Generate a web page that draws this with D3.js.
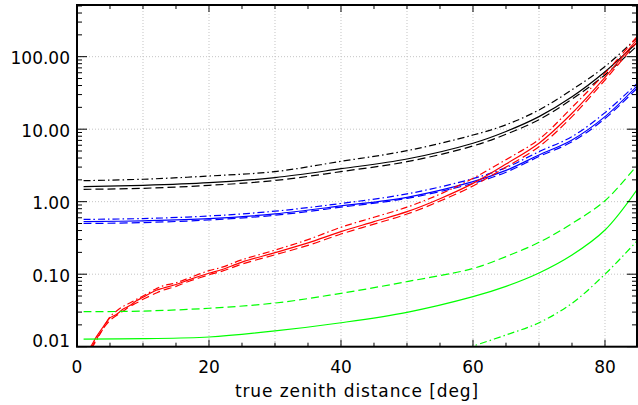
<!DOCTYPE html>
<html>
<head>
<meta charset="utf-8">
<script src="https://cdn.jsdelivr.net/npm/d3@7"></script>
<style>
  body { margin: 0; background: #fff; }
  text { font-family: "DejaVu Sans", sans-serif; fill: #000; }
</style>
</head>
<body>
<script>
const w = 638;
const h = 405;
const plotL = 77, plotR = 637, plotT = 5, plotB = 346.7;

// zenith distances (deg) for the smooth curves
const zen = [1, 10, 20, 30, 40, 50, 60, 65, 70, 75, 80, 85];
const blackSolid   = [1.61, 1.68, 1.83, 2.15, 2.85, 3.88, 6.4, 9.3, 14.9, 28, 62, 161];
const blackDashed  = [1.48, 1.53, 1.68, 1.96, 2.6, 3.56, 5.87, 8.5, 13.5, 26, 56, 145];
const blackDashDot = [1.95, 2.04, 2.26, 2.6, 3.6, 5.05, 8.3, 11.5, 18.4, 35, 73, 189];
const blueSolid    = [0.53, 0.545, 0.583, 0.68, 0.873, 1.15, 1.89, 2.7, 4.4, 7.1, 14.9, 40.7];
const blueDashed   = [0.50, 0.515, 0.56, 0.65, 0.84, 1.11, 1.79, 2.55, 4.2, 6.7, 14, 37.8];
const blueDashDot  = [0.57, 0.585, 0.635, 0.74, 0.945, 1.28, 2.08, 2.95, 4.9, 7.9, 16.9, 44];
const greenSolid   = [0.0127, 0.0129, 0.0136, 0.0165, 0.0214, 0.0298, 0.049, 0.068, 0.104, 0.184, 0.407, 1.53];
const greenDashed  = [0.0304, 0.031, 0.0339, 0.04, 0.0545, 0.079, 0.12, 0.175, 0.275, 0.5, 1.03, 3.3];

// green dash-dot only rises above the floor late
const zenGreenDD = [59, 60, 65, 70, 75, 80, 85];
const greenDashDot = [0.0095, 0.0102, 0.0145, 0.0214, 0.0397, 0.1, 0.297];

// red curves are noisy at small angles, so read more densely
const zenRed = [1, 2, 3, 4, 5, 6, 7, 8, 9, 10, 12, 13, 15, 17, 20, 22, 25, 30, 35, 40, 45, 50, 55, 60, 65, 70, 75, 80, 85];
const redSolid   = [0.0075, 0.0098, 0.014, 0.019, 0.025, 0.028, 0.033, 0.037, 0.043, 0.048, 0.060, 0.064, 0.072, 0.084, 0.103, 0.116, 0.147, 0.198, 0.27, 0.386, 0.53, 0.728, 1.1, 1.79, 3.3, 6.4, 16.6, 52, 180];
const redDashed  = [0.007, 0.0092, 0.013, 0.018, 0.023, 0.027, 0.031, 0.036, 0.040, 0.045, 0.055, 0.060, 0.068, 0.080, 0.098, 0.110, 0.138, 0.185, 0.25, 0.358, 0.49, 0.676, 1.02, 1.65, 3.0, 5.74, 14.9, 47.7, 165];
const redDashDot = [0.0065, 0.0088, 0.0125, 0.018, 0.026, 0.031, 0.036, 0.040, 0.045, 0.050, 0.063, 0.069, 0.076, 0.089, 0.112, 0.125, 0.158, 0.215, 0.30, 0.444, 0.61, 0.84, 1.27, 2.1, 3.8, 7.25, 20, 59, 195];

const xTicks = [0, 20, 40, 60, 80];
const yTicks = [0.01, 0.1, 1, 10, 100];
const yLabels = ["0.01", "0.10", "1.00", "10.00", "100.00"];

const svg = d3.select('body').append('svg')
    .attr('width', w)
    .attr('height', h);

const x = d3.scaleLinear().domain([0, 84.85]).range([plotL, plotR]);
const y = d3.scaleLog().domain([0.01, 516]).range([plotB, plotT]);

// dotted grid
svg.append('g')
    .selectAll('line')
    .data(d3.range(10, 85, 10))
    .enter().append('line')
    .attr('x1', d => x(d)).attr('x2', d => x(d))
    .attr('y1', plotT).attr('y2', plotB)
    .attr('stroke', '#c4c4c4')
    .attr('stroke-dasharray', '1,2');

svg.append('g')
    .selectAll('line')
    .data(yTicks.slice(1))
    .enter().append('line')
    .attr('x1', plotL).attr('x2', plotR)
    .attr('y1', d => y(d)).attr('y2', d => y(d))
    .attr('stroke', '#c4c4c4')
    .attr('stroke-dasharray', '1,2');

svg.append('clipPath').attr('id', 'plot')
    .append('rect')
    .attr('x', plotL).attr('y', plotT)
    .attr('width', plotR - plotL).attr('height', plotB - plotT);

const line = d3.line()
    .x(d => x(d[0]))
    .y(d => y(d[1]))
    .curve(d3.curveCatmullRom.alpha(0.5));

const dashed = '8,4';
const dashDot = '7,3,1.5,3';

const series = [
    [zen, blackSolid, '#000000', null],
    [zen, blackDashed, '#000000', dashed],
    [zen, blackDashDot, '#000000', dashDot],
    [zen, blueSolid, '#0000ff', null],
    [zen, blueDashed, '#0000ff', dashed],
    [zen, blueDashDot, '#0000ff', dashDot],
    [zenRed, redSolid, '#ff0000', null],
    [zenRed, redDashed, '#ff0000', dashed],
    [zenRed, redDashDot, '#ff0000', dashDot],
    [zen, greenSolid, '#00ff00', null],
    [zen, greenDashed, '#00ff00', dashed],
    [zenGreenDD, greenDashDot, '#00ff00', dashDot]
];

const curves = svg.append('g').attr('clip-path', 'url(#plot)');
series.forEach(s => {
    curves.append('path')
        .attr('d', line(s[0].map((z, i) => [z, s[1][i]])))
        .attr('fill', 'none')
        .attr('stroke', s[2])
        .attr('stroke-width', 1.2)
        .attr('stroke-dasharray', s[3]);
});

// ticks: minor every 5 deg, longer every 20
const ax = svg.append('g').attr('stroke', '#000');
d3.range(0, 85, 5).forEach(d => {
    const len = d % 20 === 0 ? 7 : 4;
    ax.append('line').attr('x1', x(d)).attr('x2', x(d)).attr('y1', plotB).attr('y2', plotB - len);
    ax.append('line').attr('x1', x(d)).attr('x2', x(d)).attr('y1', plotT).attr('y2', plotT + len);
});

const yMinor = [];
[0.01, 0.1, 1, 10, 100].forEach(p => {
    d3.range(1, 10).forEach(k => { if (p * k <= 516) yMinor.push(p * k); });
});
yMinor.forEach(v => {
    const len = yTicks.includes(v) ? 10 : 5;
    ax.append('line').attr('x1', plotL).attr('x2', plotL + len).attr('y1', y(v)).attr('y2', y(v));
    ax.append('line').attr('x1', plotR).attr('x2', plotR - len).attr('y1', y(v)).attr('y2', y(v));
});

svg.append('rect')
    .attr('x', plotL).attr('y', plotT)
    .attr('width', plotR - plotL).attr('height', plotB - plotT)
    .attr('fill', 'none')
    .attr('stroke', '#000')
    .attr('stroke-width', 2);

svg.append('g')
    .selectAll('text')
    .data(xTicks)
    .enter().append('text')
    .attr('x', d => x(d))
    .attr('y', 373)
    .attr('text-anchor', 'middle')
    .attr('font-size', 17)
    .text(d => d);

svg.append('g')
    .selectAll('text')
    .data(yTicks)
    .enter().append('text')
    .attr('x', 70)
    .attr('y', (d, i) => i === 0 ? y(d) + 0.6 : y(d) + 7.5)
    .attr('text-anchor', 'end')
    .attr('font-size', 17)
    .text((d, i) => yLabels[i]);

svg.append('text')
    .attr('x', (plotL + plotR) / 2)
    .attr('y', 397)
    .attr('text-anchor', 'middle')
    .attr('font-size', 17)
    .attr('letter-spacing', 0.9)
    .text('true zenith distance [deg]');
</script>
</body>
</html>
